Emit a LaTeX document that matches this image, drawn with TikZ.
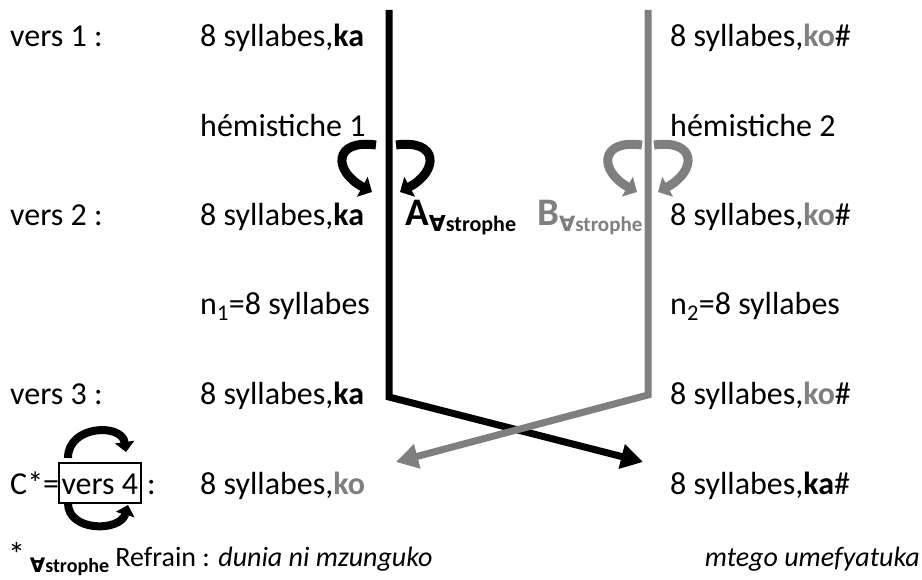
\documentclass[tikz,border=0pt]{standalone}
\usepackage{fontspec}
\setmainfont{Carlito}
\newfontfamily\symfont{DejaVu Sans}
\usepackage{xcolor}
\usetikzlibrary{positioning,arrows.meta}
\definecolor{inkgray}{HTML}{7F7F7F}
\tikzset{
    lbl/.style={anchor=base west, inner sep=0pt, font=\fontsize{32}{38}\selectfont},
    footlbl/.style={anchor=base west, inner sep=0pt, font=\fontsize{28}{34}\selectfont},
    bigletter/.style={anchor=base west, inner sep=0pt, font=\fontsize{39}{45}\selectfont\bfseries},
    bar/.style={line width=7pt, -{Triangle[length=22pt,width=24pt]}},
    curl/.style={line width=9pt, -{Triangle[length=11pt,width=22pt]}},
    smallcurl/.style={line width=8pt, -{Triangle[length=10pt,width=19pt]}},
    versebox/.style={draw, line width=2pt, anchor=base west, inner xsep=2.5pt, inner ysep=2pt,
        text height=29pt, text depth=7pt, font=\fontsize{32}{38}\selectfont},
}
\newcommand{\strophetag}[1]{\raisebox{-6pt}{\fontsize{#1}{24}\selectfont\bfseries{\symfont ∀}strophe}}

\begin{document}
\begin{tikzpicture}[x=1pt, y=-1pt]
    \useasboundingbox (0,0) rectangle (922,580);
    % left column
    \node[lbl] (v1) at (10,47) {vers 1 :};
    \node[lbl] (v2) at (10,226) {vers 2 :};
    \node[lbl] (v3) at (10,404) {vers 3 :};
    \node[lbl] (cstar) at (10,494) {C*=};
    \node[versebox] (v4) at (58,494) {vers 4};
    \node[lbl] (colon4) at (147,494) {:};
    % first hemistich
    \node[lbl] (s1a) at (200,47) {8 syllabes,\textbf{ka}};
    \node[lbl] (h1) at (200,137) {hémistiche 1};
    \node[lbl] (s2a) at (200,226) {8 syllabes,\textbf{ka}};
    \node[lbl] (n1) at (200,315) {n\textsubscript{1}=8 syllabes};
    \node[lbl] (s3a) at (200,404) {8 syllabes,\textbf{ka}};
    \node[lbl] (s4a) at (200,494) {8 syllabes,\textbf{\color{inkgray}ko}};
    % second hemistich
    \node[lbl] (s1b) at (670,47) {8 syllabes,\textbf{\color{inkgray}ko}\#};
    \node[lbl] (h2) at (670,137) {hémistiche 2};
    \node[lbl] (s2b) at (670,226) {8 syllabes,\textbf{\color{inkgray}ko}\#};
    \node[lbl] (n2) at (670,315) {n\textsubscript{2}=8 syllabes};
    \node[lbl] (s3b) at (670,404) {8 syllabes,\textbf{\color{inkgray}ko}\#};
    \node[lbl] (s4b) at (670,494) {8 syllabes,\textbf{ka}\#};
    % strophe labels
    \node[bigletter] (alab) at (405,226) {A\strophetag{22}};
    \node[bigletter, text=inkgray] (blab) at (537,226) {B\strophetag{21}};
    % crossing bars
    \coordinate (btop) at (389,10);
    \coordinate (bknee) at (389,397);
    \coordinate (btip) at (643,462);
    \coordinate (gtop) at (648,10);
    \coordinate (gknee) at (648,395);
    \coordinate (gtip) at (396,462);
    \draw[bar] (btop) -- (bknee) -- (btip);
    \draw[bar, inkgray] (gtop) -- (gknee) -- (gtip);
    % turning arrows
    \draw[curl] (376,145) .. controls (333,139) and (333,171) .. (372,192);
    \draw[curl] (396,145) .. controls (439,139) and (439,171) .. (400,192);
    \draw[curl, inkgray] (642,145) .. controls (599,139) and (599,171) .. (637,192);
    \draw[curl, inkgray] (654,145) .. controls (697,139) and (697,171) .. (658,192);
    \draw[smallcurl] (68,458) .. controls (68,425) and (122,423) .. (126,452);
    \draw[smallcurl] (68,503) .. controls (68,532) and (120,532) .. (128,505);
    % footnote
    \node[footlbl] (foot1) at (8,566) {{\fontsize{34}{38}\selectfont*}\,\strophetag{20}{} Refrain : \textit{dunia ni mzunguko}};
    \node[footlbl, anchor=base east] (foot2) at (920,566) {\textit{mtego umefyatuka}};
\end{tikzpicture}
\end{document}
